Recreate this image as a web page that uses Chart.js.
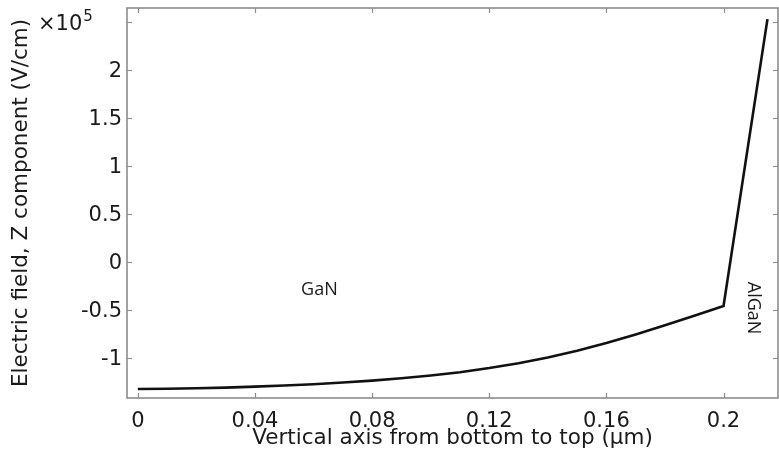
<!DOCTYPE html>
<html>
<head>
<meta charset="utf-8">
<script src="https://cdn.jsdelivr.net/npm/chart.js@4"></script>
<style>
  html, body { margin: 0; padding: 0; background: #ffffff; }
  canvas { display: block; }
</style>
</head>
<body>
<canvas id="chart" width="779" height="456"></canvas>
<script>
// Depth along the stack (µm), bottom of GaN buffer to top of AlGaN barrier
const depth = [0, 0.01, 0.02, 0.03, 0.04, 0.05, 0.06, 0.07, 0.08, 0.09, 0.10,
               0.11, 0.12, 0.13, 0.14, 0.15, 0.16, 0.17, 0.18, 0.19, 0.20, 0.215];
// Z component of the electric field (V/cm)
const fieldZ = [-132300, -132100, -131600, -130900, -129900, -128700, -127300, -125600,
                -123600, -121200, -118300, -114800, -110500, -105500, -99500, -92500,
                -84500, -75500, -66000, -56000, -45800, 253000];

const xTicks = [0, 0.04, 0.08, 0.12, 0.16, 0.2];
const xTickLabels = ['0', '0.04', '0.08', '0.12', '0.16', '0.2'];
const yTicks = [-100000, -50000, 0, 50000, 100000, 150000, 200000, 250000];
const yTickLabels = ['-1', '-0.5', '0', '0.5', '1', '1.5', '2', ''];

// Layer names placed in data coordinates
const layerNames = ['GaN', 'AlGaN'];
const layerX = [0.062, 0.2102];
const layerY = [-29000, -48000];
const layerRotation = [0, 90];

const AXIS_FONT = "'DejaVu Sans', sans-serif";
const NOTE_FONT = "'Open Sans', sans-serif";

const framePlugin = {
  id: 'frame',
  beforeDatasetsDraw(chart) {
    const { ctx, chartArea: a, scales: { x, y } } = chart;
    ctx.save();
    ctx.strokeStyle = '#8c8c8c';
    ctx.lineWidth = 1.6;
    ctx.strokeRect(a.left, a.top, a.right - a.left, a.bottom - a.top);
    ctx.lineWidth = 1.2;
    ctx.beginPath();
    x.ticks.forEach(t => {
      const px = Math.round(x.getPixelForValue(t.value)) + 0.5;
      ctx.moveTo(px, a.bottom); ctx.lineTo(px, a.bottom - 5);
      ctx.moveTo(px, a.top); ctx.lineTo(px, a.top + 5);
    });
    y.ticks.forEach(t => {
      const py = Math.round(y.getPixelForValue(t.value)) + 0.5;
      ctx.moveTo(a.left, py); ctx.lineTo(a.left + 5, py);
      ctx.moveTo(a.right, py); ctx.lineTo(a.right - 5, py);
    });
    ctx.stroke();
    ctx.restore();
  },
  afterDatasetsDraw(chart) {
    const { ctx, scales: { x, y } } = chart;
    ctx.save();
    ctx.fillStyle = '#1a1a1a';
    // axis multiplier
    ctx.textBaseline = 'alphabetic';
    ctx.textAlign = 'left';
    ctx.font = `21px ${AXIS_FONT}`;
    ctx.fillText('×10', 38, 30);
    const w = ctx.measureText('×10').width;
    ctx.font = `15px ${AXIS_FONT}`;
    ctx.fillText('5', 38 + w + 1, 21);
    // layer names
    ctx.font = `18px ${NOTE_FONT}`;
    ctx.textAlign = 'center';
    ctx.textBaseline = 'middle';
    layerNames.forEach((name, i) => {
      const px = x.getPixelForValue(layerX[i]);
      const py = y.getPixelForValue(layerY[i]);
      ctx.save();
      ctx.translate(px, py);
      ctx.rotate(layerRotation[i] * Math.PI / 180);
      ctx.fillText(name, 0, 0);
      ctx.restore();
    });
    ctx.restore();
  }
};

new Chart(document.getElementById('chart'), {
  type: 'line',
  data: {
    datasets: [{
      data: depth.map((d, i) => ({ x: d, y: fieldZ[i] })),
      borderColor: '#111111',
      borderWidth: 2.6,
      pointRadius: 0,
      tension: 0,
      fill: false
    }]
  },
  options: {
    responsive: false,
    devicePixelRatio: 1,
    animation: false,
    layout: { padding: { top: 8, right: 1, left: 0, bottom: 0 } },
    plugins: { legend: { display: false }, tooltip: { enabled: false } },
    scales: {
      x: {
        type: 'linear',
        min: -0.0037,
        max: 0.2186,
        grid: { display: false, drawTicks: false },
        border: { display: false },
        afterBuildTicks: s => { s.ticks = xTicks.map(v => ({ value: v })); },
        afterFit: s => { s.height = 58; s.paddingLeft = 0; s.paddingRight = 0; },
        ticks: {
          padding: 11,
          maxRotation: 0,
          color: '#1a1a1a',
          font: { family: AXIS_FONT, size: 21 },
          callback: (v, i) => xTickLabels[i]
        },
        title: {
          display: true,
          text: 'Vertical axis from bottom to top (µm)',
          color: '#1a1a1a',
          font: { family: AXIS_FONT, size: 21.5 },
          padding: { top: 0, bottom: 5 }
        }
      },
      y: {
        type: 'linear',
        min: -141700,
        max: 264600,
        grid: { display: false, drawTicks: false },
        border: { display: false },
        afterBuildTicks: s => { s.ticks = yTicks.map(v => ({ value: v })); },
        afterFit: s => { s.width = 127; s.paddingTop = 0; s.paddingBottom = 0; },
        ticks: {
          padding: 5,
          labelOffset: 2,
          color: '#1a1a1a',
          font: { family: AXIS_FONT, size: 21 },
          callback: (v, i) => yTickLabels[i]
        },
        title: {
          display: true,
          text: 'Electric field, Z component (V/cm)',
          color: '#1a1a1a',
          font: { family: AXIS_FONT, size: 21.5 },
          padding: { top: 9, bottom: 0 }
        }
      }
    }
  },
  plugins: [framePlugin]
});
</script>
</body>
</html>
